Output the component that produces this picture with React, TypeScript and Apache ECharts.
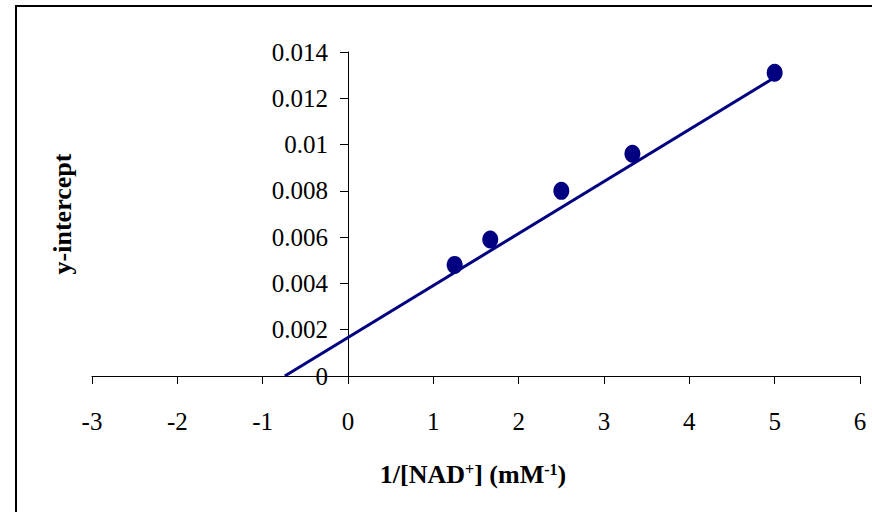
import React, { useEffect, useRef } from "react";
import * as echarts from "echarts";

const xValues = [1.25, 1.667, 2.5, 3.333, 5];
const yValues = [0.0048, 0.0059, 0.008, 0.0096, 0.0131];
const fitLineX = [-0.74, 5];
const fitLineY = [0, 0.0129];
const xTicks = { min: -3, max: 6, interval: 1 };
const yTicks = { min: 0, max: 0.014, interval: 0.002 };

const FONT = "'Liberation Serif', 'Times New Roman', serif";
const NAVY = "#000080";

export default function App() {
  const ref = useRef<HTMLDivElement>(null);
  useEffect(() => {
    if (!ref.current) return;
    const chart = echarts.init(ref.current, null, { renderer: "svg" });
    chart.setOption({
      animation: false,
      backgroundColor: "#fff",
      grid: { left: 92, right: 12, top: 52, bottom: 136, containLabel: false },
      xAxis: {
        type: "value",
        min: xTicks.min,
        max: xTicks.max,
        interval: xTicks.interval,
        axisLine: { show: true, onZero: false, lineStyle: { color: "#000", width: 1 } },
        axisTick: { show: true, inside: false, length: 8, lineStyle: { color: "#000" } },
        axisLabel: { color: "#000", fontFamily: FONT, fontSize: 25, margin: 33 },
        splitLine: { show: false },
      },
      yAxis: {
        type: "value",
        min: yTicks.min,
        max: yTicks.max,
        interval: yTicks.interval,
        offset: -256,
        axisLine: { show: true, onZero: false, lineStyle: { color: "#000", width: 1 } },
        axisTick: { show: true, inside: false, length: 8, lineStyle: { color: "#000" } },
        axisLabel: {
          color: "#000",
          fontFamily: FONT,
          fontSize: 25,
          margin: 20,
          formatter: (v: number) => String(parseFloat(v.toFixed(3))),
        },
        splitLine: { show: false },
      },
      series: [
        {
          type: "line",
          data: fitLineX.map((x, i) => [x, fitLineY[i]]),
          showSymbol: false,
          symbol: "none",
          lineStyle: { color: NAVY, width: 3 },
          z: 2,
        },
        {
          type: "scatter",
          data: xValues.map((x, i) => [x, yValues[i]]),
          symbol: "circle",
          symbolSize: [16, 18],
          itemStyle: { color: NAVY, opacity: 1 },
          z: 3,
        },
      ],
      graphic: [
        {
          type: "rect",
          shape: { x: 16, y: 6, width: 1000, height: 1000 },
          style: { fill: "none", stroke: "#000", lineWidth: 2 },
          z: -1,
          silent: true,
        },
        {
          type: "text",
          x: 62,
          y: 214,
          rotation: Math.PI / 2,
          style: {
            text: "y-intercept",
            fontFamily: FONT,
            fontSize: 26,
            fontWeight: "bold",
            fill: "#000",
            align: "center",
            verticalAlign: "middle",
          },
        },
        {
          type: "text",
          x: 473,
          y: 474,
          style: {
            text: "{b|1/[NAD}{s|+}{b|] (mM}{s|-1}{b|)}",
            fill: "#000",
            align: "center",
            verticalAlign: "middle",
            rich: {
              b: { fontFamily: FONT, fontSize: 26, fontWeight: "bold", fill: "#000", verticalAlign: "bottom" },
              s: { fontFamily: FONT, fontSize: 16, fontWeight: "bold", fill: "#000", verticalAlign: "top", padding: [0, 0, 10, 0] },
            },
          },
        },
      ],
    });
    return () => chart.dispose();
  }, []);
  return (
    <div
      ref={ref}
      style={{ position: "fixed", left: 0, top: 0, width: 872, height: 512, background: "#fff" }}
    />
  );
}
